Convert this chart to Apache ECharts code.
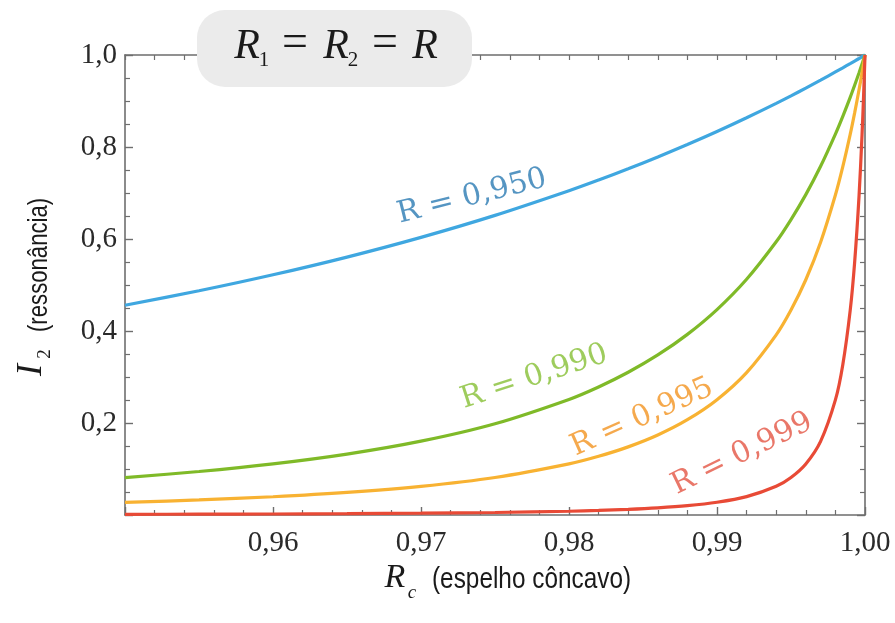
<!DOCTYPE html>
<html>
<head>
<meta charset="utf-8">
<script src="https://cdn.jsdelivr.net/npm/echarts@6/dist/echarts.min.js"></script>
<style>
  html, body { margin: 0; padding: 0; background: #ffffff; }
  #chart { width: 895px; height: 623px; }
</style>
</head>
<body>
<div id="chart"></div>
<script>
// Concave-mirror reflectivity R_c (shared abscissa of all curves)
const rc = [0.950, 0.955, 0.960, 0.965, 0.970, 0.975, 0.980,
            0.982, 0.984, 0.986, 0.988, 0.990, 0.992, 0.994,
            0.995, 0.996, 0.997, 0.998, 0.9985, 0.999,
            0.9993, 0.9996, 0.9998, 0.9999, 1.000];

// Resonant intensity I2 for each mirror reflectivity R1 = R2 = R
const i950 = [0.4559, 0.4874, 0.5222, 0.5607, 0.6036, 0.6514, 0.7050,
              0.7283, 0.7527, 0.7784, 0.8053, 0.8336, 0.8635, 0.8949,
              0.9112, 0.9281, 0.9453, 0.9631, 0.9721, 0.9813,
              0.9869, 0.9924, 0.9962, 0.9981, 1.0];
const i990 = [0.0813, 0.0945, 0.1111, 0.1324, 0.1605, 0.1984, 0.2513,
              0.2784, 0.3103, 0.3479, 0.3927, 0.4466, 0.5125, 0.5940,
              0.6423, 0.6965, 0.7580, 0.8280, 0.8666, 0.9079,
              0.9342, 0.9615, 0.9805, 0.9902, 1.0];
const i995 = [0.0274, 0.0327, 0.0397, 0.0491, 0.0623, 0.0815, 0.1111,
              0.1276, 0.1481, 0.1739, 0.2071, 0.2506, 0.3095, 0.3916,
              0.4456, 0.5114, 0.5930, 0.6956, 0.7572, 0.8273,
              0.8741, 0.9249, 0.9612, 0.9804, 1.0];
const i999 = [0.0014, 0.0018, 0.0022, 0.0029, 0.0039, 0.0054, 0.0082,
              0.0099, 0.0123, 0.0156, 0.0203, 0.0277, 0.0399, 0.0624,
              0.0816, 0.1110, 0.1601, 0.2502, 0.3268, 0.4447,
              0.5490, 0.6947, 0.8266, 0.9071, 1.0];

const seriesNames = ['R = 0,950', 'R = 0,990', 'R = 0,995', 'R = 0,999'];
const seriesValues = [i950, i990, i995, i999];

// Axis tick labels
const xTicks = ['0,96', '0,97', '0,98', '0,99', '1,00'];
const yTicks = ['0,2', '0,4', '0,6', '0,8', '1,0'];

// Styling
const lineColors  = ['#3fa7e0', '#7fba28', '#f8b232', '#e84a36'];
const labelColors = ['#2b7bb3', '#86bf35', '#f29320', '#e45544'];
// where each curve's name sits (data coordinates) and its tilt in degrees
const labelAnchors = [[0.97345, 0.692], [0.97764, 0.300], [0.98493, 0.212], [0.99169, 0.133]];
const labelTilts = [14, 18, 24, 26];

const frameColor = '#6e6e6e';
const tickFont = 'Liberation Serif';
const mathFont = 'Liberation Serif';
const nameFont = '"Liberation Sans", sans-serif';

const chart = echarts.init(document.getElementById('chart'), null, { renderer: 'canvas' });

function xLabel(v) {
  const idx = xTicks.indexOf(v.toFixed(2).replace('.', ','));
  return idx >= 0 ? xTicks[idx] : '';
}
function yLabel(v) {
  const idx = yTicks.indexOf(v.toFixed(1).replace('.', ','));
  return idx >= 0 ? yTicks[idx] : '';
}

const axisLineStyle = { show: true, onZero: false, lineStyle: { color: frameColor, width: 1.6 } };
const majorTick = { show: true, inside: true, length: 8, lineStyle: { color: frameColor, width: 1.4 } };

const lineSeries = seriesValues.map((vals, k) => ({
  type: 'line',
  name: seriesNames[k],
  data: rc.map((x, i) => [x, vals[i]]),
  showSymbol: false,
  symbol: 'none',
  smooth: 0.3,
  clip: false,
  lineStyle: { color: lineColors[k], width: 3.2 },
  z: 3 + k
}));

const labelSeries = seriesNames.map((name, k) => ({
  type: 'scatter',
  data: [labelAnchors[k]],
  symbolSize: 0,
  silent: true,
  z: 10,
  label: {
    show: true,
    position: 'inside',
    formatter: name,
    rotate: labelTilts[k],
    fontFamily: 'DejaVu Serif',
    fontSize: 30,
    color: labelColors[k]
  }
}));

// condensed sans text: horizontally squeezed group
function narrowText(x, y, text, size, rotation) {
  return {
    type: 'group', x: x, y: y, rotation: rotation || 0, z: 50,
    children: [{
      type: 'text', scaleX: 0.84, scaleY: 1,
      style: { text: text, font: size + 'px ' + nameFont, fill: '#1a1a1a', align: 'left', verticalAlign: 'middle' }
    }]
  };
}

const option = {
  backgroundColor: '#ffffff',
  animation: false,
  grid: { left: 125, right: 30, top: 55, bottom: 108, containLabel: false },
  xAxis: [
    {
      type: 'value', position: 'bottom',
      min: 0.95, max: 1.0, interval: 0.01,
      axisLine: axisLineStyle,
      axisTick: majorTick,
      minorTick: { show: true, splitNumber: 5, length: 5, lineStyle: { color: frameColor, width: 1.2 } },
      axisLabel: {
        show: true, margin: 14, formatter: xLabel, showMinLabel: false,
        fontFamily: tickFont, fontSize: 29, color: '#2a2a2a'
      },
      splitLine: { show: false }
    },
    {
      type: 'value', position: 'top',
      min: 0.95, max: 1.0, interval: 0.01,
      axisLine: axisLineStyle,
      axisTick: { show: true, inside: true, length: 5, lineStyle: { color: frameColor, width: 1.2 } },
      minorTick: { show: true, splitNumber: 5, length: 5, lineStyle: { color: frameColor, width: 1.2 } },
      axisLabel: { show: false },
      splitLine: { show: false }
    }
  ],
  yAxis: [
    {
      type: 'value', position: 'left', min: 0, max: 1, interval: 0.2,
      axisLine: axisLineStyle,
      axisTick: majorTick,
      minorTick: { show: true, splitNumber: 4, length: 5, lineStyle: { color: frameColor, width: 1.2 } },
      axisLabel: {
        show: true, margin: 8, formatter: yLabel, showMinLabel: false,
        fontFamily: tickFont, fontSize: 29, color: '#2a2a2a'
      },
      splitLine: { show: false }
    },
    {
      type: 'value', position: 'right', min: 0, max: 1, interval: 0.2,
      axisLine: axisLineStyle,
      axisTick: majorTick,
      minorTick: { show: true, splitNumber: 4, length: 5, lineStyle: { color: frameColor, width: 1.2 } },
      axisLabel: { show: false },
      splitLine: { show: false }
    }
  ],
  series: lineSeries.concat(labelSeries),
  graphic: [
    // title box
    {
      type: 'rect', z: 100,
      shape: { x: 197, y: 10, width: 275, height: 77, r: 28 },
      style: { fill: '#ebebeb' }
    },
    { type: 'text', z: 101, x: 247, y: 47, style: { text: 'R', font: 'italic 42px ' + mathFont, fill: '#1a1a1a', align: 'center', verticalAlign: 'middle' } },
    { type: 'text', z: 101, x: 264, y: 60, style: { text: '1', font: '21px ' + mathFont, fill: '#1a1a1a', align: 'center', verticalAlign: 'middle' } },
    { type: 'text', z: 101, x: 295, y: 44, style: { text: '=', font: '46px ' + mathFont, fill: '#1a1a1a', align: 'center', verticalAlign: 'middle' } },
    { type: 'text', z: 101, x: 336, y: 47, style: { text: 'R', font: 'italic 42px ' + mathFont, fill: '#1a1a1a', align: 'center', verticalAlign: 'middle' } },
    { type: 'text', z: 101, x: 353, y: 60, style: { text: '2', font: '21px ' + mathFont, fill: '#1a1a1a', align: 'center', verticalAlign: 'middle' } },
    { type: 'text', z: 101, x: 385, y: 44, style: { text: '=', font: '46px ' + mathFont, fill: '#1a1a1a', align: 'center', verticalAlign: 'middle' } },
    { type: 'text', z: 101, x: 425, y: 47, style: { text: 'R', font: 'italic 42px ' + mathFont, fill: '#1a1a1a', align: 'center', verticalAlign: 'middle' } },

    // x-axis name: R_c (espelho côncavo)
    { type: 'text', z: 50, x: 395, y: 578, style: { text: 'R', font: 'italic 34px ' + mathFont, fill: '#1a1a1a', align: 'center', verticalAlign: 'middle' } },
    { type: 'text', z: 50, x: 412, y: 593, style: { text: 'c', font: 'italic 19px ' + mathFont, fill: '#1a1a1a', align: 'center', verticalAlign: 'middle' } },
    narrowText(432, 580, '(espelho côncavo)', 29, 0),

    // y-axis name: I_2 (ressonância), reading upward
    {
      type: 'group', x: 44, y: 285, rotation: Math.PI / 2, z: 50,
      children: [
        { type: 'text', x: -85, y: -12, style: { text: 'I', font: 'italic 36px ' + mathFont, fill: '#1a1a1a', align: 'center', verticalAlign: 'middle' } },
        { type: 'text', x: -69, y: 1, style: { text: '2', font: '19px ' + mathFont, fill: '#1a1a1a', align: 'center', verticalAlign: 'middle' } },
        {
          type: 'group', x: -47, y: -4,
          children: [{
            type: 'text', scaleX: 0.82, scaleY: 1,
            style: { text: '(ressonância)', font: '27px ' + nameFont, fill: '#1a1a1a', align: 'left', verticalAlign: 'middle' }
          }]
        }
      ]
    }
  ]
};

chart.setOption(option);
</script>
</body>
</html>
